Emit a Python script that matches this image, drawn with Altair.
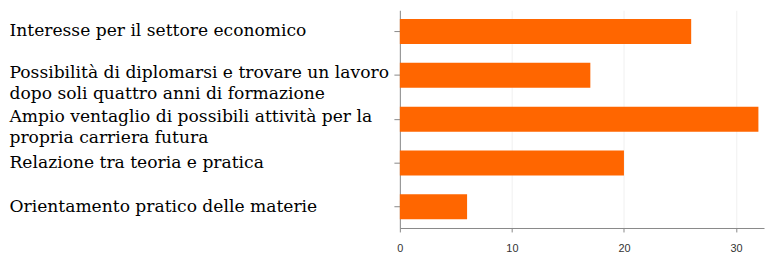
import altair as alt
import pandas as pd

categories = [
    "Interesse per il settore economico",
    "Possibilità di diplomarsi e trovare un lavoro\ndopo soli quattro anni di formazione",
    "Ampio ventaglio di possibili attività per la\npropria carriera futura",
    "Relazione tra teoria e pratica",
    "Orientamento pratico delle materie",
]
values = [26, 17, 32, 20, 6]
x_ticks = [0, 10, 20, 30]

df = pd.DataFrame({"cat": categories, "val": values})

chart = (
    alt.Chart(df)
    .mark_bar(color="#FF6600")
    .encode(
        x=alt.X(
            "val:Q",
            scale=alt.Scale(domain=[0, 32.5], nice=False),
            axis=alt.Axis(
                values=x_ticks,
                title=None,
                grid=True,
                gridColor="#f0f0f0",
                domainColor="#888888",
                tickColor="#888888",
                tickSize=4,
                labelFont="Liberation Sans",
                labelFontSize=11,
                labelColor="#333333",
                labelPadding=11,
                labelFlush=False,
            ),
        ),
        y=alt.Y(
            "cat:N",
            sort=None,
            scale=alt.Scale(paddingInner=0.43, paddingOuter=0.2),
            axis=alt.Axis(
                title=None,
                domainColor="#888888",
                tickColor="#888888",
                tickSize=6,
                labelFont="DejaVu Serif",
                labelFontSize=17.3,
                labelColor="#000000",
                labelAlign="left",
                labelPadding=389,
                labelLimit=0,
                labelLineHeight=21,
                labelExpr="split(datum.label, '\\n')",
                labelOffset={
                    "condition": {"test": "indexof(datum.value, '\\n') >= 0", "value": -2},
                    "value": 0,
                },
            ),
        ),
    )
    .properties(
        width=368,
        height=220,
        autosize=alt.AutoSizeParams(type="none"),
        padding={"left": 396, "top": 1, "right": 1, "bottom": 29},
    )
    .configure_view(stroke=None)
)

chart.save("out.html", embed_options={"renderer": "svg", "actions": False})
